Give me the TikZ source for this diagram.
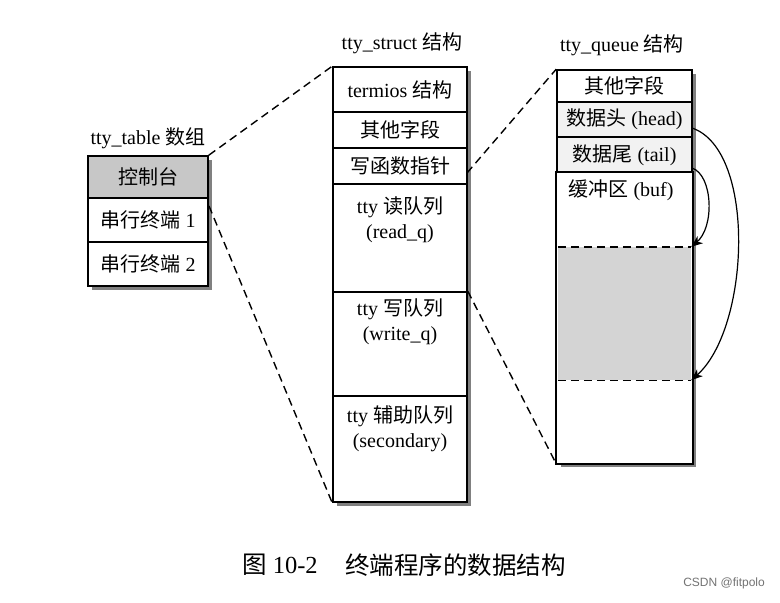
\documentclass[tikz,border=0pt]{standalone}
\usepackage{fontspec}
\setmainfont{Liberation Serif}
\newfontfamily\cjk{Noto Sans CJK SC}
\newfontfamily\sansf{Liberation Sans}
\usetikzlibrary{calc}
\newcommand{\zh}[1]{{\cjk #1}}
\begin{document}
\begin{tikzpicture}[x=1pt,y=-1pt,
  cell/.style={draw, line width=1.6pt, fill=white, inner sep=0pt, font=\fontsize{20}{24}\selectfont},
  celltext/.style={anchor=north, inner sep=0pt, align=center, font=\fontsize{20}{25}\selectfont},
  ttitle/.style={font=\fontsize{20}{24}\selectfont, inner sep=0pt},
  conn/.style={dash pattern=on 8pt off 5pt, line width=1.4pt},
  shadowfill/.style={fill=black!50},
  ptr/.style={solid, line width=1.2pt},
  tiphead/.style={fill=black, draw=none}]
\useasboundingbox[fill=white] (0,0) rectangle (780,603);

% shadows (drawn first, behind the boxes)
\fill[shadowfill] (92,160) rectangle (212,290);
\fill[shadowfill] (337,71) rectangle (471,506);
\fill[shadowfill] (561,74) rectangle (696,467);

% titles
\node[ttitle] (lt) at (148,138) {tty\_table \zh{数组}};
\node[ttitle] (lm) at (402,43) {tty\_struct \zh{结构}};
\node[ttitle] (lr) at (622,45) {tty\_queue \zh{结构}};

% tty_table
\node[cell, fill=black!22, minimum width=120pt, minimum height=42pt] (t0) at (148,177) {\zh{控制台}};
\node[cell, minimum width=120pt, minimum height=44pt] (t1) at (148,220) {\zh{串行终端} 1};
\node[cell, minimum width=120pt, minimum height=44pt] (t2) at (148,264) {\zh{串行终端} 2};

% tty_struct
\node[cell, minimum width=134pt, minimum height=45pt] (s0) at (400,89.5) {termios \zh{结构}};
\node[cell, minimum width=134pt, minimum height=36pt] (s1) at (400,130) {\zh{其他字段}};
\node[cell, minimum width=134pt, minimum height=36pt] (s2) at (400,166) {\zh{写函数指针}};
\node[cell, minimum width=134pt, minimum height=108pt] (s3) at (400,238) {};
\node[cell, minimum width=134pt, minimum height=104pt] (s4) at (400,344) {};
\node[cell, minimum width=134pt, minimum height=106pt] (s5) at (400,449) {};
\node[celltext] (r3) at (400,196) {tty \zh{读队列}\\(read\_q)};
\node[celltext] (r4) at (400,299) {tty \zh{写队列}\\(write\_q)};
\node[celltext] (r5) at (400,405) {tty \zh{辅助队列}\\(secondary)};

% tty_queue
\node[cell, minimum width=135pt, minimum height=32pt] (q0) at (624.5,86) {\zh{其他字段}};
\node[cell, fill=black!5, minimum width=135pt, minimum height=35pt] (q1) at (624.5,119.5) {\zh{数据头} (head)};
\node[cell, fill=black!5, minimum width=135pt, minimum height=36pt] (q2) at (624.5,155) {\zh{数据尾} (tail)};
\node[cell, draw=none, minimum width=135pt, minimum height=290pt] (qrest) at (624.5,318) {};
\node[fill=black!17, inner sep=0pt, minimum width=133pt, minimum height=133pt] (qgray) at (624.5,313.5) {};
\draw[line width=1.6pt] (qrest.north west) rectangle (qrest.south east);
\draw[conn] (qgray.north west) -- (qgray.north east);
\draw[conn] (qgray.south west) -- (qgray.south east);
\node[celltext] (rb) at (621,180) {\zh{缓冲区} (buf)};

% dashed connectors
\coordinate (a1) at (209,206);
\coordinate (a2) at (467,173);
\draw[conn] (t0.north east) -- (s0.north west);
\draw[conn] (a1) -- (s5.south west);
\draw[conn] (a2) -- (q0.north west);
\draw[conn] (s4.north east) -- (qrest.south west);

% pointer arrows (curves plus filled stealth-shaped heads)
\coordinate (h0) at (692,128);
\coordinate (h1) at (692,168);
\coordinate (e0) at (qgray.south east);
\coordinate (e1) at (qgray.north east);
\draw[ptr] (h0) .. controls (757,150) and (750,330) .. ($(e0)+(5,-4.4)$);
\draw[ptr] (h1) .. controls (713,175) and (715,228) .. ($(e1)+(5,-4.2)$);
\fill[tiphead] (e0) -- ($(e0)+(11.7,-4.1)$) -- ($(e0)+(6.4,-5.4)$) -- ($(e0)+(5.8,-10.9)$) -- cycle;
\fill[tiphead] (e1) -- ($(e1)+(11.9,-3.6)$) -- ($(e1)+(6.6,-5.1)$) -- ($(e1)+(6.3,-10.6)$) -- cycle;

% caption
\node[anchor=west, inner sep=0pt, font=\fontsize{24.5}{28}\selectfont] (cap1) at (242,565) {\zh{图} 10-2};
\node[anchor=west, inner sep=0pt, font=\fontsize{24.5}{28}\selectfont] (cap2) at (345,565) {\zh{终端程序的数据结构}};
\node[anchor=east, inner sep=0pt, font=\sansf\fontsize{12}{14}\selectfont, text=black!55] (wm) at (765,583) {CSDN @fitpolo};
\end{tikzpicture}
\end{document}
